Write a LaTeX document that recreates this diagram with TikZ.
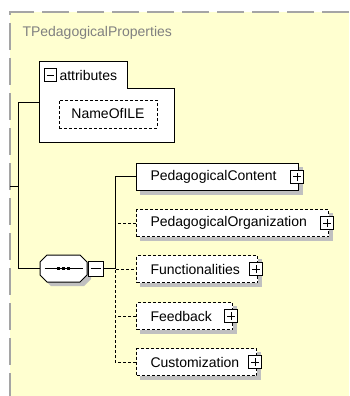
\documentclass[tikz,border=0pt]{standalone}
\usepackage{fontspec}
\setmainfont{Liberation Sans}
\definecolor{xsdYellow}{RGB}{255,255,208}
\definecolor{xsdBorder}{RGB}{165,165,165}
\definecolor{xsdShadow}{RGB}{192,192,192}
\definecolor{xsdTitle}{RGB}{128,128,128}
\newcommand{\xsdFont}{\fontsize{14}{16}\selectfont}
\newcommand{\xsdCell}[2]{\makebox[#1pt][l]{#2}}
\pgfdeclarelayer{background}
\pgfsetlayers{background,main}
\tikzset{
  xsdshade/.style={fill=xsdShadow,shift={(4,4)}},
  xsdelem/.style={draw,fill=white,anchor=west,minimum height=27pt,inner xsep=14pt,inner ysep=0pt,font=\xsdFont},
  xsdopt/.style={dash pattern=on 3pt off 2pt},
  xsdminus/.style={draw,fill=white,solid,inner sep=0pt,
    path picture={\draw ([xshift=2.5pt]path picture bounding box.west) -- ([xshift=-2.5pt]path picture bounding box.east);}},
  xsdplus/.style={draw,fill=white,solid,inner sep=0pt,minimum size=13pt,
    path picture={\draw ([xshift=2.5pt]path picture bounding box.west) -- ([xshift=-2.5pt]path picture bounding box.east)
      ([yshift=2.5pt]path picture bounding box.south) -- ([yshift=-2.5pt]path picture bounding box.north);}},
  xsdseq/.style={minimum width=47pt,minimum height=27pt,inner sep=0pt}
}

\begin{document}
\begin{tikzpicture}[x=1pt,y=-1pt,line width=1pt]
\useasboundingbox (0,0) rectangle (349,396);
\node[anchor=west,inner sep=0pt,text=xsdTitle,font=\xsdFont] (title) at (22,33) {TPedagogicalProperties};
\draw[fill=white] (39,62) -- (127,62) -- (127,88) -- (174,88) -- (174,142) -- (39,142) -- cycle;
\node[xsdminus,minimum size=12pt] (attrminus) at (50,75) {};
\node[anchor=west,inner sep=0pt,font=\xsdFont] (attrlabel) at (59,75) {attributes};
\node[draw,fill=white,xsdopt,minimum width=98pt,minimum height=28pt,inner sep=0pt,font=\xsdFont] (nameofile) at (108,114) {NameOfILE};
\coordinate (attrs) at (39,102);
\coordinate (stub) at (10,186);
\node[xsdseq] (seq) at (63.5,268.5) {};
\draw[fill=white] (47,255) -- (80,255) -- (87,262) -- (87,275) -- (80,282) -- (47,282) -- (40,275) -- (40,262) -- cycle;
\draw ([xshift=5pt]seq.west) -- ([xshift=-5pt]seq.east);
\fill ([xshift=-5pt]seq.center) +(-1.6,-1.6) rectangle +(1.6,1.6);
\fill (seq.center) +(-1.6,-1.6) rectangle +(1.6,1.6);
\fill ([xshift=5pt]seq.center) +(-1.6,-1.6) rectangle +(1.6,1.6);
\node[xsdminus,minimum size=15pt,anchor=west] (seqminus) at (seq.east) {};
\draw (stub) -- ++(8,0);
\draw (attrs) -- ++(-21,0) |- (seq.west);
\node[xsdelem] (content) at (136,176.5) {\xsdCell{134}{PedagogicalContent}};
\node[xsdelem,xsdopt] (organization) at (136,223) {\xsdCell{164}{PedagogicalOrganization}};
\node[xsdelem,xsdopt] (functionalities) at (136,269) {\xsdCell{93}{Functionalities}};
\node[xsdelem,xsdopt] (feedback) at (136,316) {\xsdCell{68}{Feedback}};
\node[xsdelem,xsdopt] (customization) at (136,362) {\xsdCell{92}{Customization}};
\node[xsdplus] (contentplus) at ([xshift=-2pt]content.east) {};
\node[xsdplus] (organizationplus) at ([xshift=-2pt]organization.east) {};
\node[xsdplus] (functionalitiesplus) at ([xshift=-2pt]functionalities.east) {};
\node[xsdplus] (feedbackplus) at ([xshift=-2pt]feedback.east) {};
\node[xsdplus] (customizationplus) at ([xshift=-2pt]customization.east) {};
\draw (content.west) -- ++(-21,0) |- (seqminus.east);
\draw[xsdopt] (customization.west) -- ++(-21,0) |- (functionalities.west);
\draw[xsdopt] (organization.west) -- ++(-21,0);
\draw[xsdopt] (feedback.west) -- ++(-21,0);
\begin{pgfonlayer}{background}
\fill[xsdYellow] (10,12) rectangle (349,396);
\draw[xsdBorder,line width=1.5pt,dash pattern=on 27pt off 8pt] (349,12) -- (10,12) -- (10,396);
\fill[xsdshade] (47,255) -- (80,255) -- (87,262) -- (87,275) -- (80,282) -- (47,282) -- (40,275) -- (40,262) -- cycle;
\fill[xsdShadow] ([shift={(4,4)}]nameofile.south west) rectangle ([shift={(4,4)}]nameofile.north east);
\fill[xsdShadow] ([shift={(4,4)}]content.south west) rectangle ([shift={(4,4)}]content.north east);
\fill[xsdShadow] ([shift={(4,4)}]organization.south west) rectangle ([shift={(4,4)}]organization.north east);
\fill[xsdShadow] ([shift={(4,4)}]functionalities.south west) rectangle ([shift={(4,4)}]functionalities.north east);
\fill[xsdShadow] ([shift={(4,4)}]feedback.south west) rectangle ([shift={(4,4)}]feedback.north east);
\fill[xsdShadow] ([shift={(4,4)}]customization.south west) rectangle ([shift={(4,4)}]customization.north east);
\end{pgfonlayer}
\end{tikzpicture}
\end{document}
